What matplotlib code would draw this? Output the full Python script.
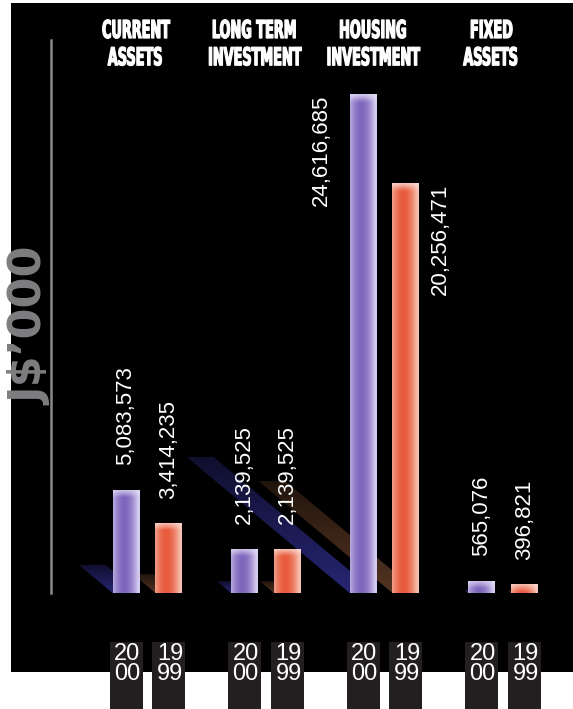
import numpy as np
import matplotlib
matplotlib.use('Agg')
import matplotlib.pyplot as plt
from matplotlib import font_manager
from matplotlib.patches import Polygon, Rectangle
from matplotlib.patheffects import AbstractPathEffect
from matplotlib.transforms import Affine2D, Bbox
from matplotlib.text import Text
from matplotlib.colors import to_rgb

# balance sheet items, J$'000
categories = ['CURRENT\nASSETS', 'LONG TERM\nINVESTMENT', 'HOUSING\nINVESTMENT', 'FIXED\nASSETS']
years = ['2000', '1999']
values_2000 = [5083573, 2139525, 24616685, 565076]
values_1999 = [3414235, 2139525, 20256471, 396821]

PX = 49431.0      # value units per pixel (vertical)
UX = 118.5        # pixels per category step (horizontal)


class Squeeze(AbstractPathEffect):
    """Narrow the glyphs of a text line about its own centre (poster-style condensed type)."""
    def __init__(self, sx=0.55, stroke=0.0):
        super().__init__()
        self.sx = sx
        self.stroke = stroke

    def draw_path(self, renderer, gc, tpath, affine, rgbFace=None):
        ext = tpath.get_extents()
        xc = 0.5 * (ext.x0 + ext.x1)
        tr = Affine2D().translate(-xc, 0).scale(self.sx, 1).translate(xc, 0) + affine
        renderer.draw_path(gc, tpath, tr, rgbFace)
        if self.stroke and rgbFace is not None:
            gc0 = renderer.new_gc()
            gc0.copy_properties(gc)
            gc0.set_linewidth(self.stroke)
            gc0.set_foreground(rgbFace)
            renderer.draw_path(gc0, tpath, tr, None)
            gc0.restore()


class CondensedText(Text):
    """Text drawn through Squeeze; reports the narrowed extent too."""
    def __init__(self, *args, sx=0.55, stroke=0.0, **kwargs):
        super().__init__(*args, **kwargs)
        self._sx = sx
        self.set_path_effects([Squeeze(sx, stroke)])

    def get_window_extent(self, renderer=None, dpi=None):
        bb = super().get_window_extent(renderer, dpi)
        xc = 0.5 * (bb.x0 + bb.x1)
        hw = 0.5 * bb.width * self._sx
        return Bbox.from_extents(xc - hw, bb.y0, xc + hw, bb.y1)


# narrow face for the headings if it is there
try:
    font_manager.findfont(font_manager.FontProperties(family='Liberation Sans Narrow', weight='bold'),
                          fallback_to_default=False)
    head_family, head_size, head_sx = 'Liberation Sans Narrow', 18.0, 0.72
except ValueError:
    head_family, head_size, head_sx = 'DejaVu Sans', 17.8, 0.52

fig = plt.figure(figsize=(5.73, 7.09), dpi=100, facecolor='white')
ax = fig.add_axes([11 / 573, 37 / 709, 562 / 573, 669 / 709])
ax.set_facecolor('black')

xlim = ((11 - 147.5) / UX, (573 - 147.5) / UX)
ylim = (-79 * PX, 590 * PX)

x = np.arange(len(categories))
off, w = 0.181, 0.227
bars20 = ax.bar(x - off, values_2000, w, color='#8a70c4', zorder=3)
bars99 = ax.bar(x + off, values_1999, w, color='#e8664a', zorder=3)

styles = {
    '2000': dict(center='#7e66bc', edge='#d4ccf0', top='#e6e0f8', shadow='#34329a'),
    '1999': dict(center='#e85a3c', edge='#f6c0b0', top='#fbe2da', shadow='#70462c'),
}


def shade_bar(bar, st):
    x0, bw, bh = bar.get_x(), bar.get_width(), bar.get_height()
    t = np.linspace(0, 1, 64)
    wgt = np.clip(np.abs(t - 0.42) / 0.52, 0, 1) ** 1.8
    c, e, tp = (np.array(to_rgb(st[k])) for k in ('center', 'edge', 'top'))
    row = c * (1 - wgt[:, None]) + e * wgt[:, None]
    ny = 200
    hpx = bh / PX
    ypx = np.linspace(0, hpx, ny)
    mix = np.clip(1 - (hpx - ypx) / 7.0, 0, 1) * 0.75
    img = row[None, :, :] * (1 - mix[:, None, None]) + tp[None, None, :] * mix[:, None, None]
    ax.imshow(img, origin='lower', extent=(x0, x0 + bw, 0, bh), aspect='auto',
              interpolation='bilinear', zorder=4)


def shadow(bar, st):
    x0, bw, v = bar.get_x(), bar.get_width(), bar.get_height()
    dx = -0.327 * v / (PX * UX)
    dy = 0.273 * v
    poly = Polygon([(x0, 0), (x0 + bw, 0), (x0 + bw + dx, dy), (x0 + dx, dy)],
                   fc='none', ec='none', zorder=2)
    ax.add_patch(poly)
    rgb = np.array(to_rgb(st['shadow']))
    a = np.linspace(0.75, 0.3, 100)
    img = np.zeros((100, 2, 4))
    img[:, :, :3] = rgb
    img[:, :, 3] = a[:, None]
    im = ax.imshow(img, origin='lower', extent=(x0 + dx, x0 + bw, 0, dy), aspect='auto',
                   interpolation='bilinear', zorder=2)
    im.set_clip_path(poly)


for yr, bars in zip(years, [bars20, bars99]):
    for b in bars:
        shadow(b, styles[yr])
        shade_bar(b, styles[yr])

# value labels
lab = dict(rotation=90, color='white', fontsize=16, family='Liberation Sans', zorder=6)
for i, (b20, b99) in enumerate(zip(bars20, bars99)):
    for yr, b in (('2000', b20), ('1999', b99)):
        v = b.get_height()
        cx = b.get_x() + b.get_width() / 2
        txt = f'{v:,}'
        if categories[i].startswith('HOUSING'):
            if yr == '2000':
                ax.text(b.get_x() - 0.15, v, txt, ha='right', va='top', **lab)
            else:
                ax.text(b.get_x() + b.get_width() + 0.09, v, txt, ha='left', va='top', **lab)
        else:
            ax.text(cx, v + 1.25e6, txt, ha='center', va='bottom', **lab)

# category headings
for i, cat in enumerate(categories):
    ax.add_artist(CondensedText(x[i] - 0.1, (593 - 19) * PX, cat, sx=head_sx, stroke=0.9,
                                transform=ax.transData, ha='center', va='top', color='white',
                                fontsize=head_size, family=head_family, weight='bold',
                                linespacing=1.17, zorder=6))

# year tabs under the bars
for yr, bars in zip(years, [bars20, bars99]):
    for b in bars:
        cx = b.get_x() + b.get_width() / 2
        bw = 33 / UX
        ax.add_patch(Rectangle((cx - bw / 2, (593 - 712) * PX), bw, 70 * PX,
                               fc='#231f20', ec='none', clip_on=False, zorder=5))
        ax.text(cx + 0.01, (593 - 664) * PX, yr[:2] + '\n' + yr[2:], ha='center',
                va='center', color='white', fontsize=17, family='Liberation Sans',
                linespacing=0.9, clip_on=False, zorder=6)

# axis line
for s in ['top', 'right', 'bottom']:
    ax.spines[s].set_visible(False)
ax.spines['left'].set_position(('data', (51 - 147.5) / UX))
ax.spines['left'].set_bounds(0, 553 * PX)
ax.spines['left'].set_color('#8a8a8a')
ax.spines['left'].set_linewidth(1.8)
ax.set_xticks([])
ax.set_yticks([])
ax.set_xlim(*xlim)
ax.set_ylim(*ylim)

fig.text(31 / 573, 1 - 326 / 709, 'J$\u2019000', rotation=90, fontsize=32,
         weight='bold', color='#7e7e80', ha='center', va='center', family='DejaVu Sans')

fig.savefig('out.png', dpi=100, facecolor='white')
